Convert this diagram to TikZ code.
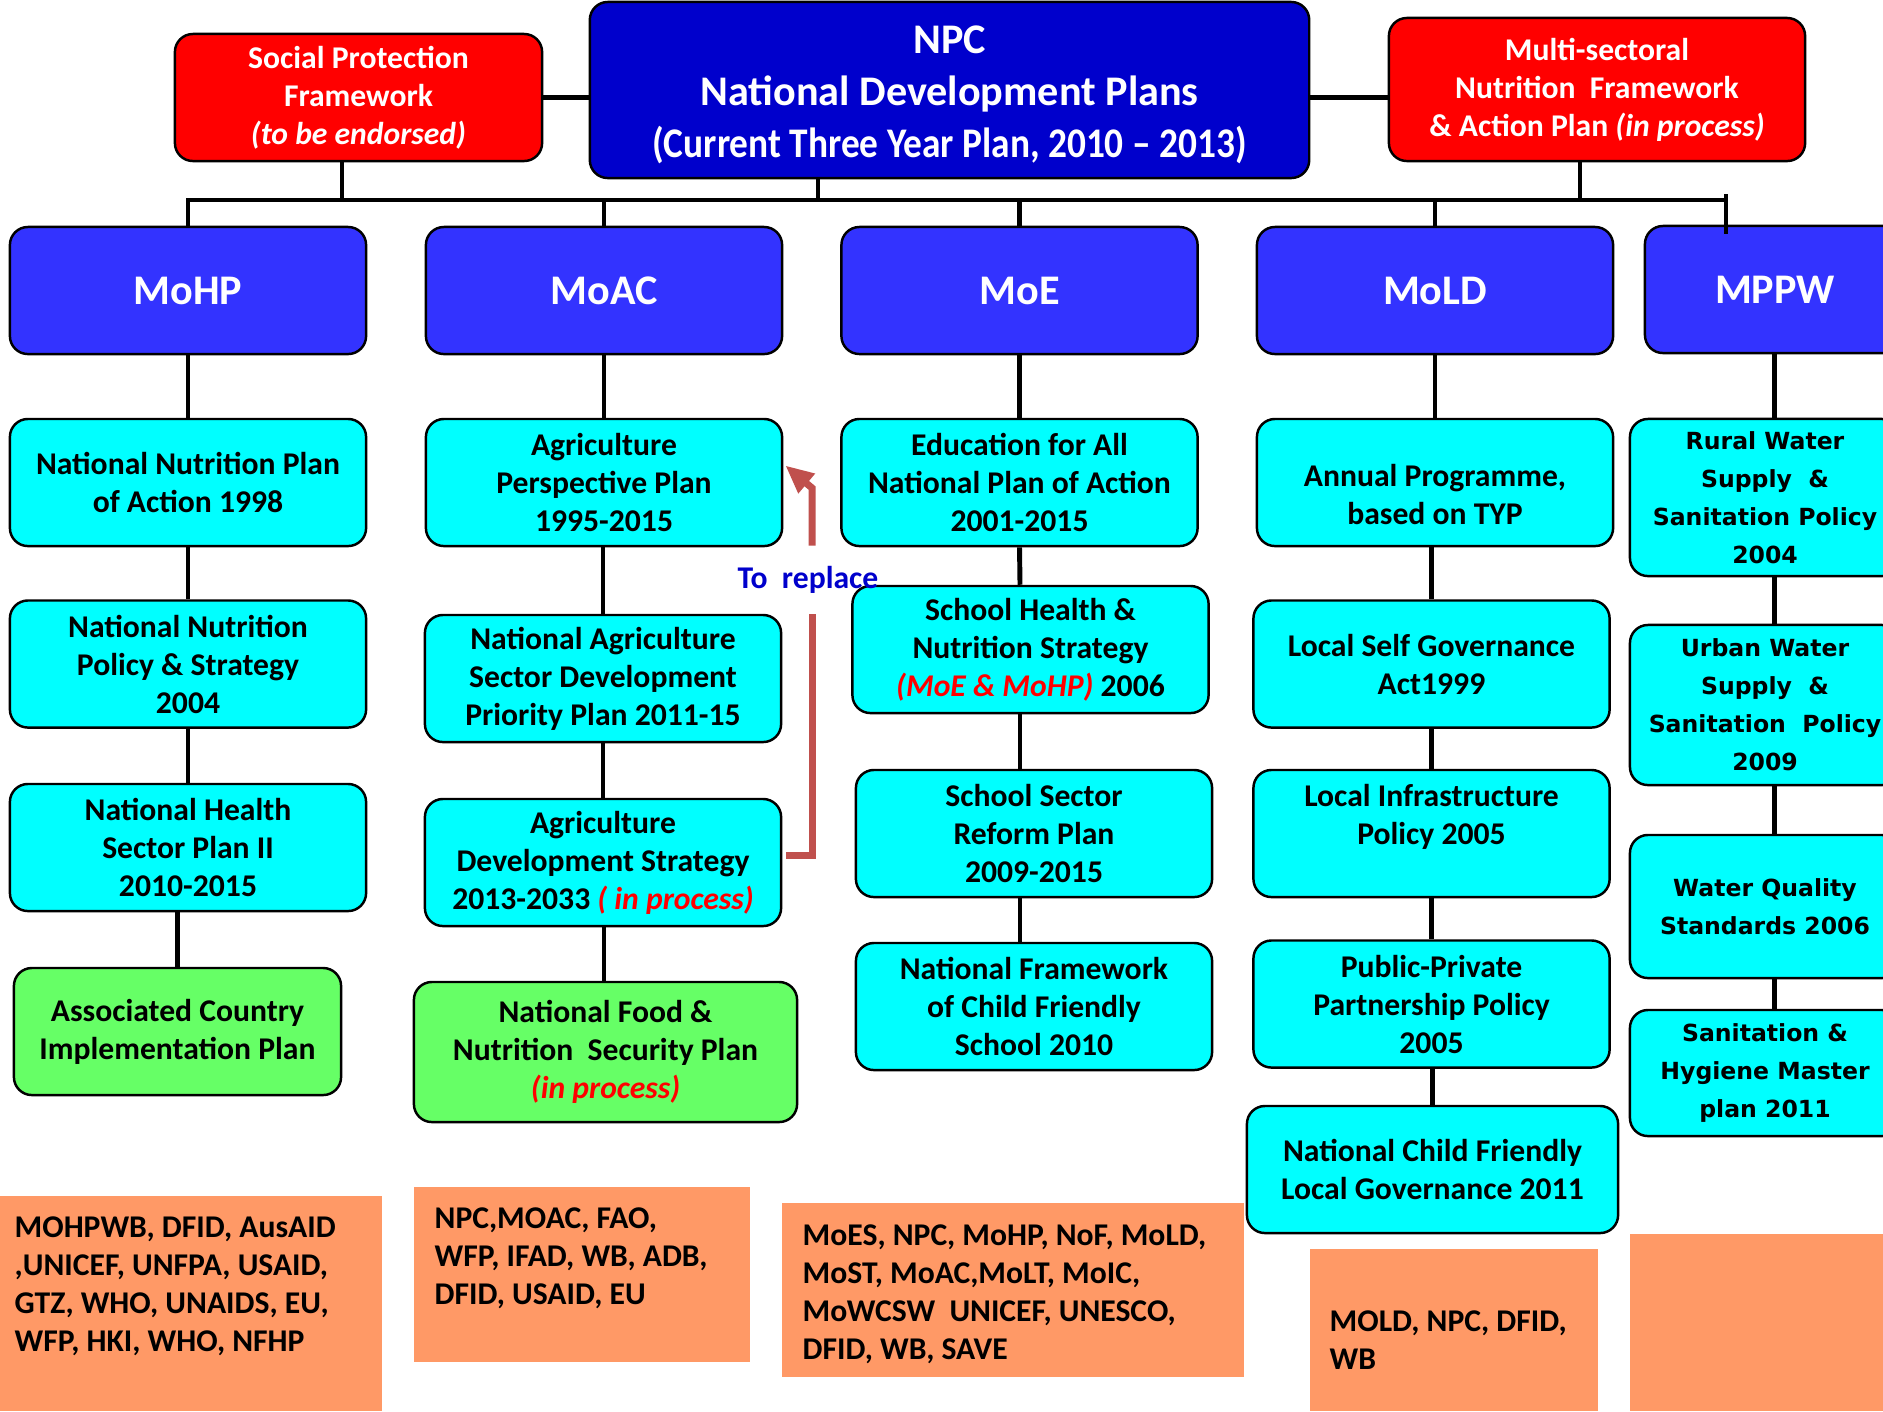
\documentclass[tikz,border=0pt]{standalone}
\usepackage{fontspec}
\setmainfont{Carlito}
\newfontfamily\wideface{DejaVu Sans}
\usetikzlibrary{arrows.meta}
\usetikzlibrary{calc}
\definecolor{npcblue}{RGB}{0,0,204}
\definecolor{minblue}{RGB}{51,51,255}
\definecolor{plancyan}{RGB}{0,255,255}
\definecolor{plangreen}{RGB}{102,255,102}
\definecolor{donororange}{RGB}{255,153,102}
\definecolor{replred}{RGB}{192,80,77}
\definecolor{replblue}{RGB}{0,0,204}
\newcommand{\boxfont}{\bfseries\fontsize{9}{10.8}\selectfont}
\newcommand{\wideboxfont}{\wideface\bfseries\fontsize{6.7}{10.8}\selectfont}
\newcommand{\inproc}[1]{{\color{red}\itshape #1}}
\tikzset{
  plan/.style={draw, line width=0.7pt, rounded corners=0.18cm, fill=plancyan, align=center, minimum width=3.56cm, minimum height=1.27cm, inner sep=1pt, font=\boxfont},
  greenplan/.style={plan, fill=plangreen},
  waterplan/.style={plan, minimum width=2.7cm, font=\wideboxfont},
  ministry/.style={plan, fill=minblue, text=white, font=\bfseries\fontsize{12}{14}\selectfont},
  topbox/.style={plan, fill=red, text=white},
  npcbox/.style={plan, fill=npcblue, text=white, font=\bfseries\fontsize{12}{14.8}\selectfont},
  link/.style={line width=1.4pt},
  busline/.style={line width=1.4pt, line cap=rect},
  replline/.style={replred, line width=2pt},
  donor/.style={fill=donororange},
  donortext/.style={align=left, anchor=west, inner sep=0pt, font=\boxfont},
}
\begin{document}
\begin{tikzpicture}[x=0.01cm, y=-0.01cm]
  \useasboundingbox (0,0) rectangle (1883,1411);
  \clip (0,0) rectangle (1883,1411);
  \fill[white] (0,0) rectangle (1883,1411);

  % top level
  \node[npcbox, minimum width=7.19cm, minimum height=1.76cm] (npc) at (949.5,90) {\rule{0pt}{10.5pt}NPC\\National Development Plans\\\scalebox{0.885}[1]{(Current Three Year Plan, 2010 – 2013)}};
  \node[topbox, minimum width=3.67cm] (spf) at (358.5,97.5) {Social Protection\\Framework\\\textit{(to be endorsed)}};
  \node[topbox, minimum width=4.16cm, minimum height=1.43cm] (msn) at (1597,89.5) {Multi-sectoral\\Nutrition\ \ Framework\\\& Action Plan \textit{(in process)}};

  % ministries
  \node[ministry] (mohp) at (188,290.5) {MoHP};
  \node[ministry] (moac) at (604,290.5) {MoAC};
  \node[ministry] (moe) at (1019.5,290.5) {MoE};
  \node[ministry] (mold) at (1435,290.5) {MoLD};
  \node[ministry, minimum width=2.6cm] (mppw) at (1775,289.5) {MPPW};

  % MoHP
  \node[plan] (nnpa) at (188,482.5) {National Nutrition Plan\\of Action 1998};
  \node[plan] (nnps) at (188,664) {National Nutrition\\Policy \& Strategy\\2004};
  \node[plan] (nhsp) at (188,847.5) {National Health\\Sector Plan II\\2010-2015};
  \node[greenplan, minimum width=3.27cm] (acip) at (177.5,1031.5) {Associated Country\\Implementation Plan};

  % MoAC
  \node[plan] (app) at (604,482.5) {Agriculture\\Perspective Plan\\1995-2015};
  \node[plan] (nasd) at (603,678.5) {National Agriculture\\Sector Development\\Priority Plan 2011-15};
  \node[plan] (ads) at (603,862.5) {Agriculture\\Development Strategy\\2013-2033 \inproc{( in process)}};
  \node[greenplan, minimum width=3.83cm, minimum height=1.4cm] (nfns) at (605.5,1052) {National Food \&\\Nutrition\ \ Security Plan\\\inproc{(in process)}};

  % MoE
  \node[plan] (efa) at (1019.5,482.5) {Education for All\\National Plan of Action\\2001-2015};
  \node[plan] (shns) at (1030.5,649.5) {School Health \&\\Nutrition Strategy\\\inproc{(MoE \& MoHP)} 2006};
  \node[plan] (ssrp) at (1034,833.5) {School Sector\\Reform Plan\\2009-2015};
  \node[plan] (nfcf) at (1034,1006.5) {National Framework\\of Child Friendly\\School 2010};

  % MoLD
  \node[plan] (ap) at (1435,482.5) {\mbox{}\\[0.08cm]Annual Programme,\\based on TYP};
  \node[plan] (lsga) at (1431.5,664) {Local Self Governance\\Act1999};
  \node[plan] (lip) at (1431.5,833.5) {Local Infrastructure\\Policy 2005\\\mbox{}};
  \node[plan] (ppp) at (1431.5,1004) {Public-Private\\Partnership Policy\\2005};
  \node[plan, minimum width=3.71cm] (ncflg) at (1432.5,1169.5) {National Child Friendly\\Local Governance 2011};

  % MPPW
  \node[waterplan, minimum height=1.57cm] (rwss) at (1765,497.5) {Rural Water\\Supply\ \ \&\\Sanitation Policy\\2004};
  \node[waterplan, minimum height=1.6cm] (uwss) at (1765,705) {Urban Water\\Supply\ \ \&\\Sanitation\ \ Policy\\2009};
  \node[waterplan, minimum height=1.43cm] (wqs) at (1765,906.5) {Water Quality\\Standards 2006};
  \node[waterplan, minimum height=1.26cm] (shmp) at (1765,1073) {Sanitation \&\\Hygiene Master\\plan 2011};

  % links
  \coordinate (busl) at (188,200);
  \coordinate (busr) at (1726,200);
  \coordinate (spdrop) at (342,0);
  \coordinate (npcdrop) at (818,0);
  \coordinate (msndrop) at (1580,0);
  \coordinate (c3) at (1020,0);
  \coordinate (c5) at (1774,0);
  \draw[busline] (busl) -- (busr);
  \draw[link] (spf.east) -- (spf.east -| npc.west);
  \draw[link] (spf.east -| npc.east) -- (spf.east -| msn.west);
  \draw[link] (spf.south -| spdrop) -- (busl -| spdrop);
  \draw[link] (npc.south -| npcdrop) -- (busl -| npcdrop);
  \draw[link] (msn.south -| msndrop) -- (busl -| msndrop);
  \foreach \m in {mohp,moac,moe,mold}
    \draw[link] (\m.north) -- (\m.north |- busl);
  \draw[link] ($(busr)+(0,-6)$) -- ($(mppw.north -| busr)+(0,9)$);

  \draw[link] (mohp) -- (nnpa);
  \draw[link] (nnpa) -- (nnps);
  \draw[link] (nnps) -- (nhsp);
  \draw[link] (nhsp.south -| acip) -- (acip.north);

  \draw[link] (moac) -- (app);
  \draw[link] (app.south -| nasd) -- (nasd.north);
  \draw[link] (nasd) -- (ads);
  \draw[link] (ads.south -| moac) -- (nfns.north -| moac);

  \draw[link] (moe) -- (efa);
  \draw[link] (efa.south) -- (shns.north -| c3);
  \draw[link] (shns.south -| c3) -- (ssrp.north -| c3);
  \draw[link] (ssrp.south -| c3) -- (nfcf.north -| c3);

  \draw[link] (mold) -- (ap);
  \draw[link] (ap.south -| lsga) -- (lsga.north);
  \draw[link] (lsga) -- (lip);
  \draw[link] (lip) -- (ppp);
  \draw[link] (ppp.south -| ncflg) -- (ncflg.north);

  \draw[link] (mppw.south -| c5) -- (rwss.north -| c5);
  \draw[link] (rwss.south -| c5) -- (uwss.north -| c5);
  \draw[link] (uwss.south -| c5) -- (wqs.north -| c5);
  \draw[link] (wqs.south -| c5) -- (shmp.north -| c5);

  % to replace
  \node[font=\boxfont, text=replblue, inner xsep=0pt, inner ysep=0.2cm] (repl) at (808,580) {To\ \ replace};
  \coordinate (repa) at (786,855);
  \coordinate (repb) at (812,855);
  \coordinate (repc) at (812,488);
  \draw[replline] (repa) -- (repb) -- (repl.south -| repb);
  \draw[replline, -{Triangle[length=0.28cm, width=0.24cm]}] (repl.north -| repb) -- (repc) -- ($(app.east)+(2,-17)$);

  % donors
  \fill[donor] (0,1196) rectangle (382,1411);
  \node[donortext] (don1) at (14,1286) {MOHPWB, DFID, AusAID\\,UNICEF, UNFPA, USAID,\\GTZ, WHO, UNAIDS, EU,\\WFP, HKI, WHO, NFHP};
  \fill[donor] (414,1187) rectangle (750,1362);
  \node[donortext] (don2) at (434,1258) {NPC,MOAC, FAO,\\WFP, IFAD, WB, ADB,\\DFID, USAID, EU};
  \fill[donor] (782,1203) rectangle (1244,1377);
  \node[donortext] (don3) at (802,1294) {MoES, NPC, MoHP, NoF, MoLD,\\MoST, MoAC,MoLT, MoIC,\\MoWCSW\ \ UNICEF, UNESCO,\\DFID, WB, SAVE};
  \fill[donor] (1310,1249) rectangle (1598,1411);
  \node[donortext] (don4) at (1329,1340) {MOLD, NPC, DFID,\\WB};
  \fill[donor] (1630,1234) rectangle (1883,1411);
\end{tikzpicture}
\end{document}
